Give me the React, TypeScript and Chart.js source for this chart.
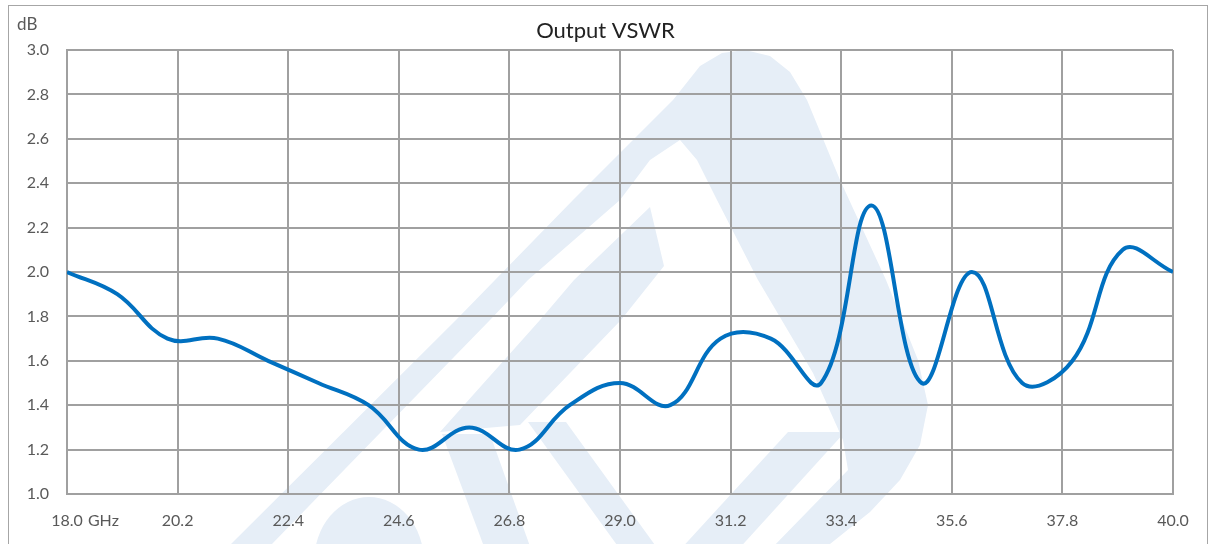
import React, { useEffect, useRef } from "react";
import { Chart, registerables } from "chart.js";

Chart.register(...registerables);

// Frequency (GHz) sample points
const freqs: number[] = [18, 19, 20, 21, 22, 23, 24, 25, 26, 27, 28, 29, 30, 31, 32, 33, 34, 35, 36, 37, 38, 39, 40];
// Output VSWR values
const vswr: number[] = [2.0, 1.9, 1.7, 1.7, 1.6, 1.5, 1.4, 1.2, 1.3, 1.2, 1.4, 1.5, 1.4, 1.7, 1.7, 1.5, 2.3, 1.5, 2.0, 1.5, 1.6, 2.1, 2.0];
// X-axis tick values
const xTicks: number[] = [18.0, 20.2, 22.4, 24.6, 26.8, 29.0, 31.2, 33.4, 35.6, 37.8, 40.0];
// Y-axis tick values
const yTicks: number[] = [1.0, 1.2, 1.4, 1.6, 1.8, 2.0, 2.2, 2.4, 2.6, 2.8, 3.0];
const xUnit = "GHz";
const yUnit = "dB";
const chartTitle = "Output VSWR";

const FONT = "Lato, 'Open Sans', sans-serif";
const TICK_SIZE = 16;
const TICK_PAD = 17;

// decorative background watermark (page pixel outline, purely cosmetic)
const WM_COLOR = "#e6eef7";
const wmArch: number[][] = [
  [231, 544], [456, 320], [573, 200], [613, 160], [673, 100], [700, 66], [722, 53], [745, 50], [770, 56], [790, 72],
  [807, 100], [840, 180], [886, 280], [918, 360], [928, 405], [920, 445], [900, 480], [870, 512], [820, 552], [768, 552],
  [848, 470], [843, 440], [813, 373], [758, 280], [717, 200], [697, 160], [680, 140], [650, 160], [620, 200],
  [528, 280], [490, 320], [272, 544],
];
const wmStripeB: number[][] = [[650, 207], [664, 266], [621, 320], [520, 425], [440, 432], [540, 320], [574, 280]];
const wmStripe3: number[][] = [[442, 434], [490, 434], [532, 552], [486, 552]];
const wmStripe4: number[][] = [[528, 422], [566, 422], [660, 552], [622, 552]];
const wmStripe5: number[][] = [[678, 552], [736, 552], [845, 432], [788, 432]];

export default function App() {
  const ref = useRef<HTMLCanvasElement | null>(null);

  useEffect(() => {
    if (!ref.current) return;
    const watermark = {
      id: "watermark",
      beforeDraw(chart: any) {
        const ctx = chart.ctx;
        ctx.save();
        ctx.translate(-9, -6);
        ctx.fillStyle = WM_COLOR;
        const poly = (pts: number[][]) => {
          ctx.beginPath();
          pts.forEach((p, i) => (i === 0 ? ctx.moveTo(p[0], p[1]) : ctx.lineTo(p[0], p[1])));
          ctx.closePath();
          ctx.fill();
        };
        poly(wmArch);
        poly(wmStripeB);
        poly(wmStripe3);
        poly(wmStripe4);
        poly(wmStripe5);
        ctx.beginPath();
        ctx.ellipse(369, 562, 55, 65, 0, 0, Math.PI * 2);
        ctx.fill();
        ctx.restore();
      },
    };
    const textPlugin = {
      id: "textLabels",
      afterDraw(chart: any) {
        const ctx = chart.ctx;
        ctx.save();
        // title
        ctx.fillStyle = "#222222";
        ctx.font = `22px ${FONT}`;
        ctx.textAlign = "center";
        ctx.textBaseline = "middle";
        ctx.fillText(chartTitle, 596.5, 24.5);
        // y unit
        ctx.fillStyle = "#595959";
        ctx.font = `17px ${FONT}`;
        ctx.textAlign = "left";
        ctx.fillText(yUnit, 8, 19);
        // x unit after the first tick label
        const xs = chart.scales.x;
        ctx.font = `${TICK_SIZE}px ${FONT}`;
        const first = xTicks[0].toFixed(1);
        const w = ctx.measureText(first).width;
        const x0 = xs.getPixelForValue(xTicks[0]);
        const y0 = chart.chartArea.bottom + TICK_PAD + (TICK_SIZE * 1.2) / 2;
        ctx.fillText(" " + xUnit, x0 + w / 2 + 1, y0);
        ctx.restore();
      },
    };
    const chart = new Chart(ref.current, {
      type: "line",
      data: {
        datasets: [
          {
            data: freqs.map((f, i) => ({ x: f, y: vswr[i] })),
            borderColor: "#0070C0",
            borderWidth: 4,
            pointRadius: 0,
            tension: 0.4,
            fill: false,
          },
        ],
      },
      options: {
        animation: false,
        responsive: false,
        maintainAspectRatio: false,
        layout: { padding: { left: 0, right: 34, top: 44, bottom: 0 } },
        plugins: {
          legend: { display: false },
          tooltip: { enabled: false },
          title: { display: false },
        },
        scales: {
          x: {
            type: "linear",
            min: 18,
            max: 40,
            afterBuildTicks: (scale: any) => {
              scale.ticks = xTicks.map((v) => ({ value: v }));
            },
            afterFit: (scale: any) => {
              scale.height = 70;
            },
            grid: { color: "#a0a0a0", lineWidth: 2, drawTicks: false },
            border: { color: "#a0a0a0", width: 2 },
            ticks: {
              color: "#595959",
              font: { family: FONT, size: TICK_SIZE },
              padding: TICK_PAD,
              maxRotation: 0,
              autoSkip: false,
              callback: (v: any) => Number(v).toFixed(1),
            },
          },
          y: {
            min: 1,
            max: 3,
            afterBuildTicks: (scale: any) => {
              scale.ticks = yTicks.map((v) => ({ value: v }));
            },
            afterFit: (scale: any) => {
              scale.width = 58;
            },
            grid: { color: "#a0a0a0", lineWidth: 2, drawTicks: false },
            border: { color: "#a0a0a0", width: 2 },
            ticks: {
              color: "#595959",
              font: { family: FONT, size: TICK_SIZE },
              padding: 18,
              autoSkip: false,
              callback: (v: any) => Number(v).toFixed(1),
            },
          },
        },
      },
      plugins: [watermark, textPlugin],
    });
    return () => chart.destroy();
  }, []);

  return (
    <div
      style={{
        position: "fixed",
        left: 8,
        top: 5,
        width: 1200,
        height: 560,
        border: "1px solid #a6a6a6",
        boxSizing: "border-box",
        background: "#ffffff",
        overflow: "hidden",
      }}
    >
      <canvas ref={ref} width={1198} height={558} style={{ display: "block" }} />
    </div>
  );
}
